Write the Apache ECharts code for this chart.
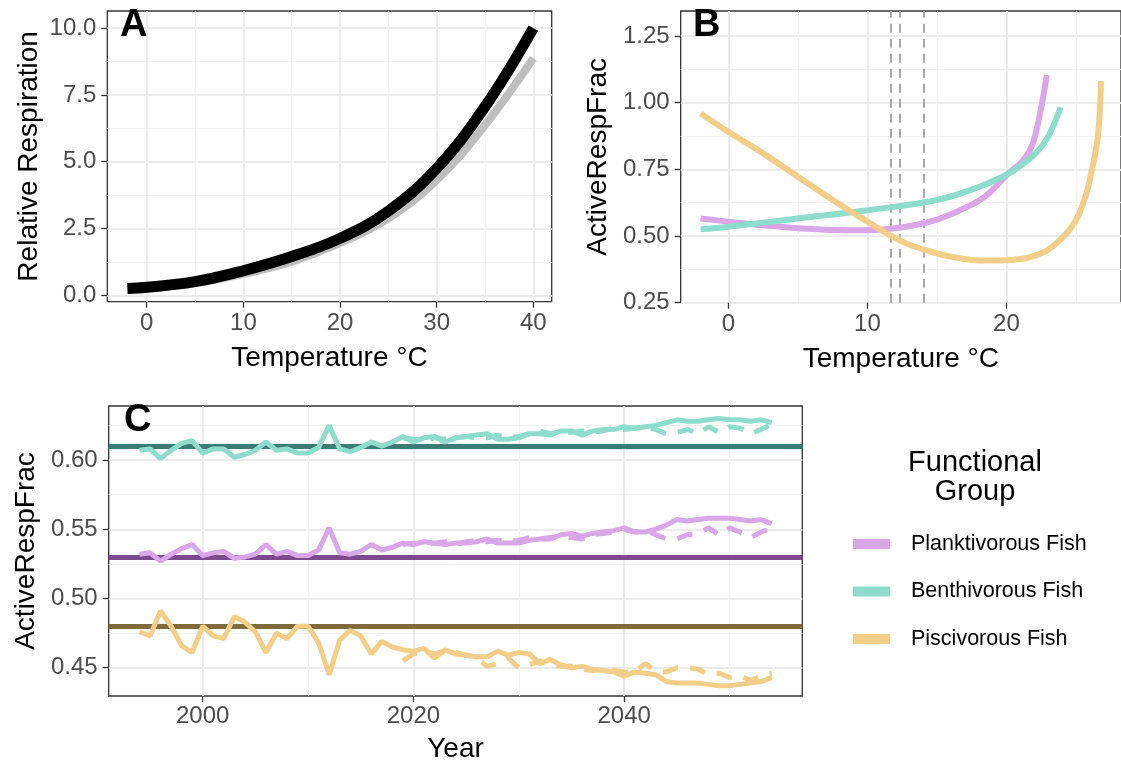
<!DOCTYPE html>
<html>
<head>
<meta charset="utf-8">
<script src="https://cdn.jsdelivr.net/npm/echarts@6.0.0/dist/echarts.min.js"></script>
<style>
  html, body { margin: 0; padding: 0; background: #fff; }
  #main { width: 1121px; height: 770px; }
</style>
</head>
<body>
<div id="main"></div>
<script>
// ---- panel A: relative respiration vs temperature
const tempA = [-2, 0, 5, 10, 15, 20, 25, 30, 35, 40]
const respBlack = [0.25, 0.3, 0.51, 0.92, 1.45, 2.13, 3.15, 4.75, 7.06, 10.0]
const respGray = [0.22, 0.27, 0.45, 0.8, 1.26, 1.95, 2.88, 4.31, 6.37, 8.87]
const aXTicks = [0, 10, 20, 30, 40]
const aXMinor = [5, 15, 25, 35]
const aYTicks = [0, 2.5, 5, 7.5, 10]
const aYMinor = [1.25, 3.75, 6.25, 8.75]

// ---- panel B: ActiveRespFrac vs temperature
const tempPlank = [-2, 0, 2.5, 5, 7.5, 10, 12.5, 15, 17, 18.5, 20, 21.4, 22.1, 22.9]
const fracPlank = [0.566, 0.554, 0.54, 0.529, 0.523, 0.522, 0.533, 0.562, 0.605, 0.65, 0.728, 0.797, 0.885, 1.104]
const tempBenth = [-2, 0, 5, 10, 15, 17.8, 20, 20.9, 22.1, 23, 23.9]
const fracBenth = [0.525, 0.535, 0.566, 0.597, 0.635, 0.68, 0.73, 0.76, 0.81, 0.873, 0.983]
const tempPisc = [-2, 0, 2.5, 5, 7.5, 10, 12.5, 15, 16.5, 18, 19.5, 21.4, 22.5, 23.3, 24.7, 25.6, 26.2, 26.6, 26.8]
const fracPisc = [0.96, 0.891, 0.81, 0.7225, 0.635, 0.554, 0.479, 0.435, 0.418, 0.408, 0.408, 0.417, 0.435, 0.46, 0.535, 0.635, 0.76, 0.885, 1.081]
const vlineTemps = [11.7, 12.35, 14.05]
const bXTicks = [0, 10, 20]
const bXMinor = [5, 15, 25]
const bYTicks = [0.25, 0.5, 0.75, 1.0, 1.25]
const bYMinor = [0.375, 0.625, 0.875, 1.125]

// ---- panel C: ActiveRespFrac by year
const years = [
  1994, 1995, 1996, 1997, 1998, 1999, 2000, 2001, 2002, 2003,
  2004, 2005, 2006, 2007, 2008, 2009, 2010, 2011, 2012, 2013,
  2014, 2015, 2016, 2017, 2018, 2019, 2020, 2021, 2022, 2023,
  2024, 2025, 2026, 2027, 2028, 2029, 2030, 2031, 2032, 2033,
  2034, 2035, 2036, 2037, 2038, 2039, 2040, 2041, 2042, 2043,
  2044, 2045, 2046, 2047, 2048, 2049, 2050, 2051, 2052, 2053,
  2054
]
const benthYear = [
  0.607, 0.608, 0.601, 0.607, 0.612, 0.614, 0.605, 0.608, 0.608, 0.602,
  0.604, 0.607, 0.613, 0.607, 0.608, 0.605, 0.605, 0.609, 0.625, 0.608,
  0.606, 0.609, 0.613, 0.610, 0.613, 0.617, 0.613, 0.616, 0.617, 0.613,
  0.616, 0.617, 0.618, 0.619, 0.615, 0.615, 0.616, 0.619, 0.619, 0.618,
  0.621, 0.621, 0.618, 0.621, 0.622, 0.622, 0.624, 0.623, 0.624, 0.625,
  0.627, 0.629, 0.628, 0.628, 0.629, 0.630, 0.629, 0.629, 0.628, 0.629,
  0.627
]
const plankYear = [
  0.532, 0.533, 0.527, 0.532, 0.536, 0.539, 0.531, 0.533, 0.534, 0.529,
  0.530, 0.532, 0.539, 0.532, 0.534, 0.531, 0.531, 0.535, 0.551, 0.533,
  0.532, 0.534, 0.539, 0.535, 0.537, 0.540, 0.539, 0.541, 0.540, 0.539,
  0.540, 0.540, 0.541, 0.543, 0.540, 0.540, 0.540, 0.542, 0.543, 0.543,
  0.546, 0.547, 0.545, 0.547, 0.548, 0.549, 0.551, 0.548, 0.548, 0.550,
  0.553, 0.557, 0.556, 0.557, 0.558, 0.558, 0.558, 0.557, 0.556, 0.557,
  0.554
]
const piscYear = [
  0.476, 0.473, 0.491, 0.480, 0.466, 0.461, 0.480, 0.473, 0.471, 0.487,
  0.483, 0.476, 0.461, 0.475, 0.471, 0.480, 0.480, 0.468, 0.445, 0.470,
  0.477, 0.473, 0.460, 0.469, 0.465, 0.463, 0.462, 0.464, 0.457, 0.463,
  0.460, 0.459, 0.458, 0.458, 0.462, 0.459, 0.461, 0.460, 0.453, 0.456,
  0.452, 0.450, 0.451, 0.449, 0.448, 0.447, 0.444, 0.447, 0.446, 0.445,
  0.440, 0.439, 0.439, 0.439, 0.438, 0.437, 0.437, 0.438, 0.439, 0.440,
  0.443
]
// second (dashed) run, 2019 onwards
const yearsAlt = [
  2019, 2020, 2021, 2022, 2023, 2024, 2025, 2026, 2027, 2028,
  2029, 2030, 2031, 2032, 2033, 2034, 2035, 2036, 2037, 2038,
  2039, 2040, 2041, 2042, 2043, 2044, 2045, 2046, 2047, 2048,
  2049, 2050, 2051, 2052, 2053, 2054
]
const benthAlt = [
  0.616, 0.615, 0.614, 0.616, 0.615, 0.616, 0.617, 0.616, 0.616, 0.618,
  0.616, 0.617, 0.619, 0.621, 0.619, 0.620, 0.620, 0.621, 0.620, 0.621,
  0.623, 0.622, 0.623, 0.624, 0.622, 0.619, 0.620, 0.622, 0.619, 0.624,
  0.620, 0.624, 0.623, 0.619, 0.622, 0.626
]
const plankAlt = [
  0.539, 0.540, 0.539, 0.540, 0.541, 0.539, 0.541, 0.542, 0.541, 0.542,
  0.541, 0.542, 0.544, 0.543, 0.544, 0.545, 0.544, 0.543, 0.546, 0.547,
  0.548, 0.550, 0.548, 0.549, 0.546, 0.543, 0.543, 0.546, 0.547, 0.551,
  0.546, 0.551, 0.548, 0.544, 0.548, 0.551
]
const piscAlt = [
  0.455, 0.460, 0.462, 0.460, 0.462, 0.461, 0.459, 0.457, 0.451, 0.453,
  0.457, 0.450, 0.452, 0.455, 0.452, 0.451, 0.451, 0.449, 0.448, 0.449,
  0.448, 0.447, 0.447, 0.453, 0.448, 0.447, 0.450, 0.450, 0.449, 0.445,
  0.446, 0.443, 0.444, 0.441, 0.444, 0.446
]
const meanFrac = [0.532, 0.606, 0.478]   // plank, benth, pisc reference lines
const cXTicks = [2000, 2020, 2040]
const cXMinor = [2010, 2030, 2050]
const cYTicks = [0.45, 0.50, 0.55, 0.60]
const cYMinor = [0.475, 0.525, 0.575, 0.625]

const groups = ['Planktivorous Fish', 'Benthivorous Fish', 'Piscivorous Fish']
const light = ['#D9A7E8', '#8EDDCB', '#F3CE88']
const dark = ['#7E4A8E', '#3E7B72', '#7F6B3B']

const FONT = '"Liberation Sans", Arial, Helvetica, sans-serif'
const zip = (xs, ys) => xs.map((x, i) => [x, ys[i]])

function mainAxis(gridIndex, min, max, ticks, digits, name, nameGap, margin) {
  return {
    type: 'value',
    gridIndex: gridIndex,
    min: min,
    max: max,
    axisLine: { show: false, onZero: false },
    axisTick: { show: true, customValues: ticks, length: 6, lineStyle: { color: '#333', width: 1.3 } },
    axisLabel: {
      customValues: ticks,
      formatter: v => Number(v).toFixed(digits),
      margin: margin,
      color: '#4D4D4D',
      fontSize: 24,
      fontFamily: FONT
    },
    splitLine: { show: true, lineStyle: { color: '#EBEBEB', width: 2 } },
    name: name,
    nameLocation: 'middle',
    nameGap: nameGap,
    nameTextStyle: { color: '#000', fontSize: 28, fontFamily: FONT }
  }
}

function minorAxis(gridIndex, min, max, ticks) {
  return {
    type: 'value',
    gridIndex: gridIndex,
    min: min,
    max: max,
    axisLine: { show: false, onZero: false },
    axisTick: { show: false, customValues: ticks },
    axisLabel: { show: false },
    splitLine: { show: true, lineStyle: { color: '#F4F4F4', width: 1 } }
  }
}

const borderGrid = { show: true, borderColor: '#333', borderWidth: 1.3, backgroundColor: 'transparent' }

const xAxes = [
  mainAxis(0, -4.08, 41.9, aXTicks, 0, 'Temperature °C', 43, 10),
  minorAxis(0, -4.08, 41.9, aXMinor),
  mainAxis(1, -3.43, 28.24, bXTicks, 0, 'Temperature °C', 43, 10),
  minorAxis(1, -3.43, 28.24, bXMinor),
  mainAxis(2, 1991.08, 2056.9, cXTicks, 0, 'Year', 39, 8),
  minorAxis(2, 1991.08, 2056.9, cXMinor)
]
const yAxes = [
  mainAxis(0, -0.24, 10.64, aYTicks, 1, 'Relative Respiration', 64, 11),
  minorAxis(0, -0.24, 10.64, aYMinor),
  mainAxis(1, 0.25, 1.344, bYTicks, 2, 'ActiveRespFrac', 68, 11),
  minorAxis(1, 0.25, 1.344, bYMinor),
  mainAxis(2, 0.4296, 0.639, cYTicks, 2, 'ActiveRespFrac', 67, 11),
  minorAxis(2, 0.4296, 0.639, cYMinor)
]

const series = []

// panel A curves
series.push({
  type: 'line', xAxisIndex: 0, yAxisIndex: 0, data: zip(tempA, respGray),
  smooth: 0.4, showSymbol: false, silent: true,
  lineStyle: { color: '#BEBEBE', width: 8 }
})
series.push({
  type: 'line', xAxisIndex: 0, yAxisIndex: 0, data: zip(tempA, respBlack),
  smooth: 0.4, showSymbol: false, silent: true,
  lineStyle: { color: '#000', width: 11 }
})

// panel B dashed reference temps
series.push({
  type: 'line', xAxisIndex: 2, yAxisIndex: 2, data: [], silent: true, z: 1,
  markLine: {
    z: 1, symbol: 'none', silent: true, label: { show: false },
    lineStyle: { color: '#A9A9A9', width: 2, type: [9, 6] },
    data: vlineTemps.map(t => ({ xAxis: t }))
  }
})
const bTemps = [tempPlank, tempBenth, tempPisc]
const bFracs = [fracPlank, fracBenth, fracPisc]
groups.forEach((g, i) => {
  series.push({
    name: g, type: 'line', xAxisIndex: 2, yAxisIndex: 2,
    data: zip(bTemps[i], bFracs[i]),
    smooth: 0.4, showSymbol: false, silent: true, z: 3,
    lineStyle: { color: light[i], width: 6 }
  })
})

// panel C
const cMain = [plankYear, benthYear, piscYear]
const cAlt = [plankAlt, benthAlt, piscAlt]
groups.forEach((g, i) => {
  series.push({
    type: 'line', xAxisIndex: 4, yAxisIndex: 4, data: [], silent: true, z: 1,
    markLine: {
      z: 1, symbol: 'none', silent: true, label: { show: false },
      lineStyle: { color: dark[i], width: 5, type: 'solid' },
      data: [{ yAxis: meanFrac[i] }]
    }
  })
})
groups.forEach((g, i) => {
  series.push({
    name: g, type: 'line', xAxisIndex: 4, yAxisIndex: 4, z: 3,
    data: zip(years, cMain[i]), showSymbol: false, silent: true,
    lineStyle: { color: light[i], width: 5 }
  })
  series.push({
    name: g, type: 'line', xAxisIndex: 4, yAxisIndex: 4, z: 3,
    data: zip(yearsAlt, cAlt[i]), showSymbol: false, silent: true,
    lineStyle: { color: light[i], width: 5, type: [16, 12] }
  })
})

const letter = (t, x, y) => ({
  type: 'text', x: x, y: y, z: 100,
  style: { text: t, fontSize: 38, fontWeight: 'bold', fontFamily: FONT, fill: '#000', verticalAlign: 'middle' }
})

const option = {
  animation: false,
  backgroundColor: '#fff',
  textStyle: { fontFamily: FONT },
  grid: [
    Object.assign({ left: 107.3, top: 11, width: 444.4, height: 290.7 }, borderGrid),
    Object.assign({ left: 680.7, top: 11, width: 446, height: 291.7 }, borderGrid),
    Object.assign({ left: 108.7, top: 406, width: 693.6, height: 290 }, borderGrid)
  ],
  xAxis: xAxes,
  yAxis: yAxes,
  legend: {
    orient: 'vertical',
    left: 848,
    top: 527,
    icon: 'rect',
    itemWidth: 37,
    itemHeight: 10,
    itemGap: 23.5,
    selectedMode: false,
    textStyle: { fontSize: 21.5, lineHeight: 24, color: '#000', fontFamily: FONT, padding: [0, 0, 0, 16] },
    data: groups.map((g, i) => ({ name: g, itemStyle: { color: light[i] } }))
  },
  graphic: [
    letter('A', 120, 26),
    letter('B', 693, 26),
    letter('C', 124, 421),
    { type: 'text', x: 975, y: 477, style: { text: 'Functional\nGroup', fontSize: 29, lineHeight: 29, fontFamily: FONT, fill: '#000', align: 'center', verticalAlign: 'middle' } }
  ],
  series: series
}

const myChart = echarts.init(document.getElementById('main'))
myChart.setOption(option)
</script>
</body>
</html>
